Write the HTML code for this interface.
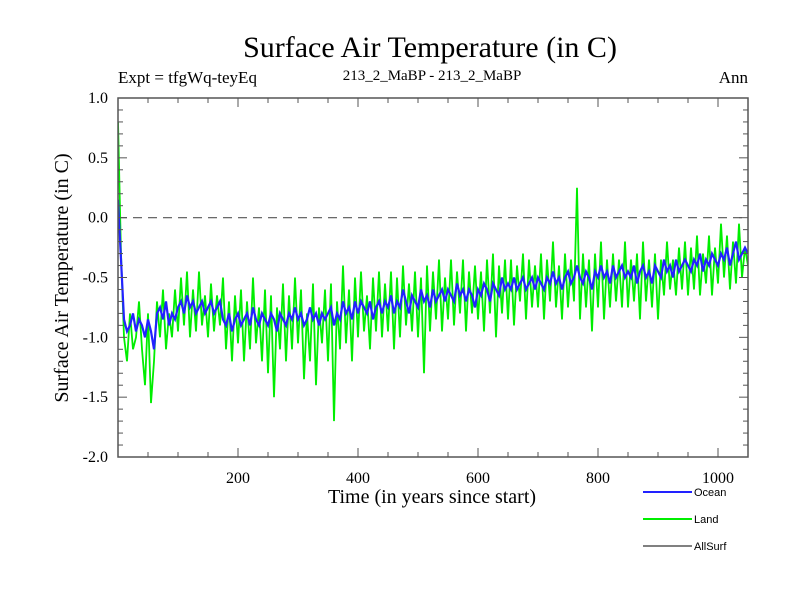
<!DOCTYPE html>
<html><head><meta charset="utf-8"><style>
html,body{margin:0;padding:0;background:#fff;width:800px;height:600px;overflow:hidden}
svg{display:block}
text{font-family:"Liberation Serif",serif;fill:#000}
.leg{font-family:"Liberation Sans",sans-serif;font-size:11px}
</style></head><body>
<svg id="chart" width="800" height="600">
<text x="430" y="57" text-anchor="middle" font-size="30">Surface Air Temperature (in C)</text>
<text x="118" y="83" font-size="17">Expt = tfgWq-teyEq</text>
<text x="432" y="80" text-anchor="middle" font-size="15">213_2_MaBP - 213_2_MaBP</text>
<text x="748" y="83" text-anchor="end" font-size="17">Ann</text>
<text transform="translate(68,278) rotate(-90)" text-anchor="middle" font-size="20">Surface Air Temperature (in C)</text>
<text x="432" y="503" text-anchor="middle" font-size="20">Time (in years since start)</text>
<g id="plot"></g>
<g>
<g><line x1="643" y1="492" x2="692" y2="492" stroke="#2222ff" stroke-width="2"/><text class="leg" x="694" y="496">Ocean</text></g>
<g><line x1="643" y1="519" x2="692" y2="519" stroke="#00ee00" stroke-width="2"/><text class="leg" x="694" y="523">Land</text></g>
<g><line x1="643" y1="546" x2="692" y2="546" stroke="#000" stroke-width="1"/><text class="leg" x="694" y="550">AllSurf</text></g>
</g>
</svg>
<script>
const years = [];
for (let y = 0; y <= 1050; y += 5) years.push(y);
const ocean = [0.15,-0.35,-0.85,-0.95,-0.9,-0.8,-0.95,-0.85,-0.9,-1.0,
-0.85,-0.95,-1.1,-0.8,-0.75,-0.85,-0.7,-0.9,-0.8,-0.85,
-0.75,-0.7,-0.8,-0.65,-0.75,-0.7,-0.8,-0.75,-0.7,-0.8,
-0.75,-0.7,-0.8,-0.75,-0.7,-0.85,-0.9,-0.8,-0.95,-0.85,
-0.8,-0.9,-0.85,-0.8,-0.9,-0.75,-0.85,-0.9,-0.8,-0.85,
-0.9,-0.8,-0.85,-0.95,-0.8,-0.85,-0.9,-0.8,-0.85,-0.75,
-0.85,-0.8,-0.9,-0.85,-0.75,-0.85,-0.8,-0.9,-0.8,-0.85,
-0.8,-0.75,-0.9,-0.8,-0.85,-0.7,-0.8,-0.75,-0.85,-0.7,
-0.8,-0.7,-0.75,-0.8,-0.7,-0.85,-0.75,-0.7,-0.8,-0.7,
-0.75,-0.65,-0.8,-0.7,-0.75,-0.6,-0.7,-0.8,-0.65,-0.7,
-0.75,-0.6,-0.7,-0.65,-0.75,-0.6,-0.7,-0.65,-0.6,-0.7,
-0.6,-0.65,-0.7,-0.55,-0.65,-0.6,-0.7,-0.6,-0.65,-0.75,
-0.6,-0.65,-0.55,-0.6,-0.7,-0.55,-0.6,-0.65,-0.5,-0.6,
-0.55,-0.6,-0.5,-0.6,-0.55,-0.5,-0.6,-0.55,-0.5,-0.6,
-0.5,-0.55,-0.6,-0.5,-0.55,-0.45,-0.55,-0.5,-0.6,-0.5,
-0.45,-0.55,-0.5,-0.4,-0.5,-0.55,-0.45,-0.5,-0.6,-0.45,
-0.5,-0.4,-0.5,-0.45,-0.55,-0.4,-0.5,-0.45,-0.4,-0.5,
-0.45,-0.5,-0.4,-0.55,-0.45,-0.4,-0.5,-0.45,-0.55,-0.4,
-0.45,-0.5,-0.35,-0.45,-0.4,-0.5,-0.35,-0.45,-0.4,-0.35,
-0.4,-0.45,-0.35,-0.4,-0.3,-0.45,-0.35,-0.4,-0.3,-0.35,
-0.4,-0.3,-0.35,-0.25,-0.4,-0.3,-0.2,-0.35,-0.3,-0.25,
-0.3];
const land = [0.8,-0.3,-1.0,-1.2,-0.8,-1.1,-1.0,-0.7,-1.1,-1.4,
-0.8,-1.55,-1.2,-0.7,-1.0,-0.6,-1.1,-0.8,-1.0,-0.6,
-0.95,-0.5,-0.9,-0.45,-1.0,-0.6,-0.95,-0.45,-0.9,-0.65,
-1.0,-0.55,-0.95,-0.65,-0.9,-0.5,-1.1,-0.7,-1.2,-0.65,
-1.05,-0.6,-1.2,-0.7,-1.1,-0.5,-1.05,-0.75,-1.2,-0.6,
-1.3,-0.65,-1.5,-0.75,-1.1,-0.55,-1.2,-0.65,-1.1,-0.5,
-1.05,-0.6,-1.35,-0.8,-1.2,-0.55,-1.4,-0.75,-1.05,-0.6,
-1.2,-0.55,-1.7,-0.7,-1.1,-0.4,-1.05,-0.6,-1.2,-0.5,
-1.0,-0.45,-0.95,-0.65,-1.1,-0.5,-0.95,-0.45,-1.0,-0.55,
-0.95,-0.45,-1.1,-0.5,-1.0,-0.4,-0.9,-0.55,-0.95,-0.45,
-1.0,-0.5,-1.3,-0.4,-0.95,-0.45,-0.85,-0.35,-0.95,-0.5,
-0.85,-0.35,-0.9,-0.45,-0.8,-0.35,-0.95,-0.45,-0.8,-0.4,
-0.85,-0.45,-0.95,-0.35,-0.8,-0.3,-1.0,-0.4,-0.8,-0.35,
-0.85,-0.35,-0.9,-0.4,-0.7,-0.3,-0.85,-0.35,-0.75,-0.4,
-0.75,-0.3,-0.85,-0.35,-0.7,-0.2,-0.75,-0.4,-0.85,-0.3,
-0.75,-0.35,-0.7,0.25,-0.85,-0.3,-0.75,-0.35,-0.95,-0.3,
-0.75,-0.2,-0.85,-0.35,-0.75,-0.3,-0.7,-0.35,-0.75,-0.2,
-0.75,-0.35,-0.7,-0.3,-0.85,-0.2,-0.7,-0.35,-0.75,-0.3,
-0.85,-0.35,-0.65,-0.2,-0.6,-0.35,-0.65,-0.25,-0.6,-0.2,
-0.65,-0.25,-0.6,-0.15,-0.65,-0.3,-0.55,-0.15,-0.65,-0.25,
-0.55,-0.05,-0.5,-0.15,-0.6,-0.2,-0.55,-0.05,-0.5,-0.25,
-0.4];
const xTicks = [200,400,600,800,1000];
const yTicks = [1.0,0.5,0.0,-0.5,-1.0,-1.5,-2.0];
const yTickLabels = ["1.0","0.5","0.0","-0.5","-1.0","-1.5","-2.0"];

const L=118, R=748, T=98, B=457, XMAX=1050, YMIN=-2, YMAX=1;
const sx = v => L + (v/XMAX)*(R-L);
const sy = v => T + (YMAX-v)/(YMAX-YMIN)*(B-T);
const NS="http://www.w3.org/2000/svg";
const g=document.getElementById('plot');
function mk(tag,attrs,parent){const e=document.createElementNS(NS,tag);for(const k in attrs)e.setAttribute(k,attrs[k]);(parent||g).appendChild(e);return e;}

const clip=mk('clipPath',{id:'clip'});
mk('rect',{x:L,y:T,width:R-L,height:B-T},clip);

function series(vals,color,w,name){
  const d=vals.map((v,i)=>(i?'L':'M')+sx(years[i]).toFixed(1)+','+sy(v).toFixed(1)).join('');
  const p=mk('path',{d:d,fill:'none',stroke:color,'stroke-width':w,'clip-path':'url(#clip)'});
  
  
}
const zl=mk('line',{x1:L,y1:sy(0),x2:R,y2:sy(0),stroke:'#555','stroke-width':1.2,'stroke-dasharray':'9,6'});


series(land,'#00ee00',1.8,'land-series');
series(ocean,'#2222ff',2.2,'ocean-series');

const frame=mk('rect',{x:L,y:T,width:R-L,height:B-T,fill:'none',stroke:'#555','stroke-width':1.5});


for(let v=50;v<XMAX;v+=50){
  const major=v%200===0, len=major?9:5;
  mk('line',{x1:sx(v),y1:B,x2:sx(v),y2:B-len,stroke:'#555'});
  mk('line',{x1:sx(v),y1:T,x2:sx(v),y2:T+len,stroke:'#555'});
}
xTicks.forEach(v=>{
  const t=mk('text',{x:sx(v),y:B+26,'text-anchor':'middle','font-size':16});
  t.textContent=v;
  
  
});
for(let k=-20;k<=10;k++){
  const v=k/10, major=k%5===0, len=major?9:5;
  mk('line',{x1:L,y1:sy(v),x2:L+len,y2:sy(v),stroke:'#555'});
  mk('line',{x1:R,y1:sy(v),x2:R-len,y2:sy(v),stroke:'#555'});
}
yTicks.forEach((v,i)=>{
  const t=mk('text',{x:L-10,y:sy(v)+5,'text-anchor':'end','font-size':16});
  t.textContent=yTickLabels[i];
  
  
});
</script>
</body></html>
